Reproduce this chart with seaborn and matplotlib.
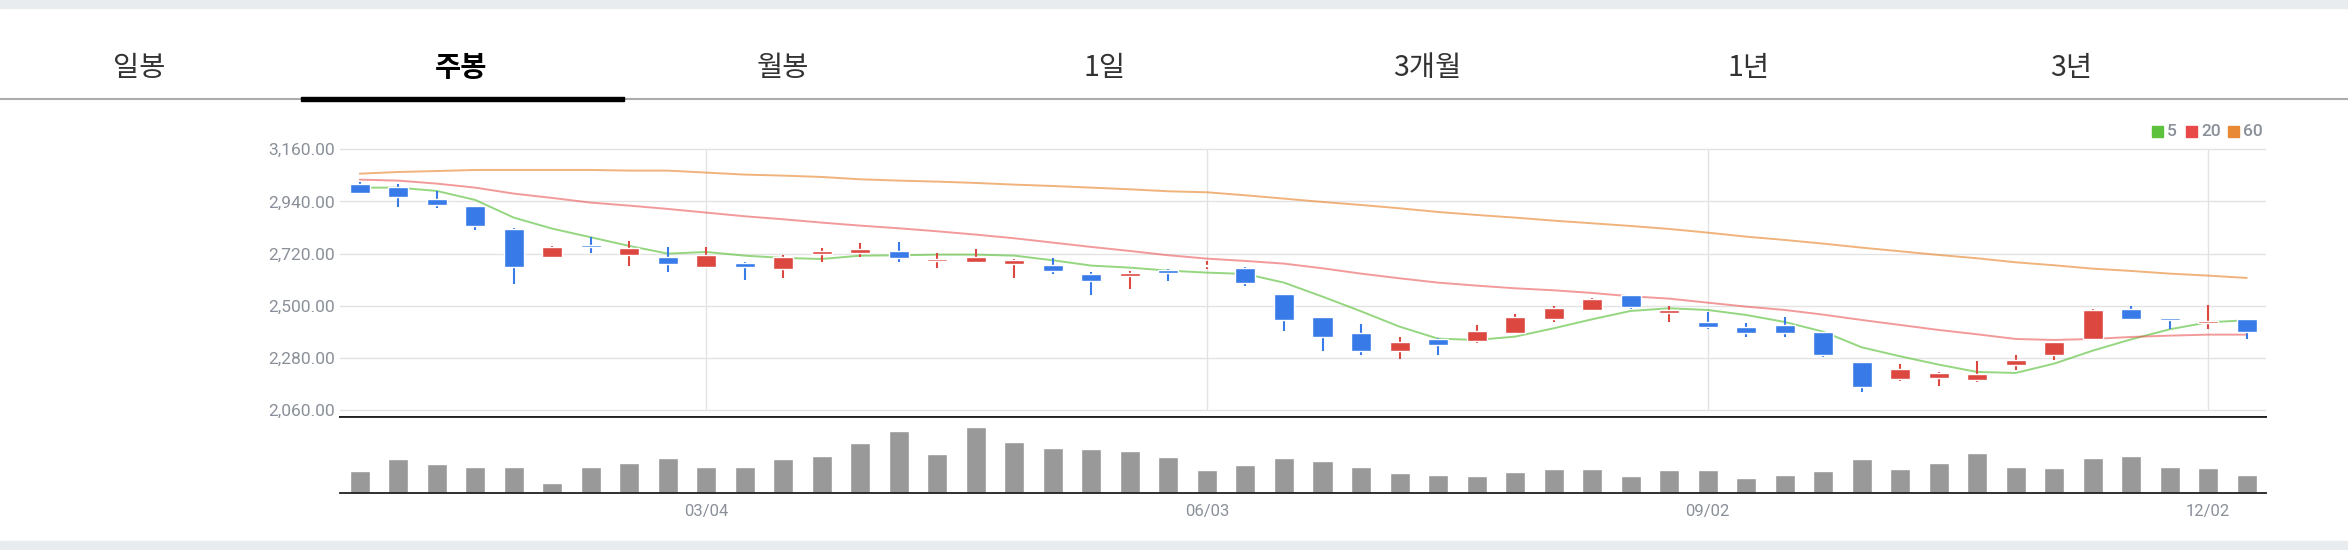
import numpy as np
import pandas as pd
import matplotlib
matplotlib.use('Agg')
import matplotlib.pyplot as plt
import seaborn as sns
from matplotlib.patches import Rectangle
from matplotlib.lines import Line2D

# weekly candles, 2024-01-01 .. 2024-12-09
opens = [3013.6, 3000.9, 2950, 2921, 2824, 2707, 2756, 2715, 2705.5, 2665,
         2680, 2656, 2719.6, 2723.8, 2731, 2690, 2685.8, 2677.4, 2671.8, 2633.8,
         2626.8, 2650.7, 2666.2, 2659, 2549.4, 2452.4, 2384.8, 2310.3, 2359.5, 2352.5,
         2386.3, 2445.3, 2483.3, 2545.2, 2470.6, 2431.3, 2410.2, 2418.6, 2389, 2262.5,
         2192.2, 2196.4, 2187.9, 2249.8, 2293.4, 2359.5, 2486.1, 2448, 2427, 2443.9]
highs = [3022, 3013.6, 2984, 2921, 2828, 2752, 2790, 2773, 2748, 2748,
         2684, 2712.6, 2743.5, 2764.6, 2768.8, 2722.4, 2739.3, 2697, 2701, 2642,
         2646.5, 2654.9, 2688.7, 2663.3, 2549.4, 2452.4, 2422.8, 2368, 2363.8, 2418.6,
         2465, 2498.8, 2532.5, 2545.2, 2498.8, 2473.5, 2427, 2452.4, 2389, 2262.5,
         2254, 2220.3, 2266.7, 2292, 2346.9, 2486.1, 2498.8, 2448, 2503, 2443.9]
lows = [2977, 2918, 2914, 2821, 2593, 2703, 2724, 2669, 2643.6, 2662,
        2610, 2618, 2685.8, 2707, 2684.4, 2660.5, 2685.8, 2618, 2635, 2546.6,
        2572, 2605.7, 2656.3, 2584.6, 2394.7, 2310.3, 2293.4, 2276.6, 2293.4, 2342.7,
        2386.3, 2432.7, 2479, 2487.5, 2432.7, 2403.1, 2369.4, 2369.4, 2283.6, 2137.3,
        2183.7, 2162.6, 2179.5, 2228.7, 2270.9, 2355.3, 2443.9, 2401.7, 2401.7, 2359.5]
closes = [2977, 2960, 2926, 2838, 2665, 2748, 2749, 2743.5, 2677, 2714,
          2665, 2705.5, 2731, 2739.3, 2702.7, 2697, 2705.5, 2692.9, 2647.9, 2605.7,
          2638, 2639.4, 2673.2, 2597, 2441, 2369.4, 2310.3, 2346.9, 2335.6, 2393.3,
          2452.4, 2490.3, 2528.3, 2496, 2481.9, 2411.6, 2386.3, 2386.3, 2293.4, 2158.4,
          2232.9, 2216.1, 2211.9, 2270.9, 2346.9, 2481.9, 2443.9, 2439.7, 2435.5, 2390.5]
ma5 = [2998, 2998, 2984, 2946, 2871.5, 2825, 2788.5, 2752, 2719.6, 2726.6,
       2711, 2701.3, 2697, 2711, 2712.6, 2715.4, 2715.4, 2711, 2691.5, 2669,
       2660.5, 2647.9, 2639.4, 2633.8, 2597.2, 2538.2, 2476.3, 2411.6, 2360.9, 2355.3,
       2369.4, 2404.5, 2442.5, 2477.7, 2488.9, 2481.9, 2460.8, 2431.3, 2390.5, 2324.4,
       2286.4, 2251.3, 2220.3, 2216.1, 2255.5, 2310.3, 2358.1, 2400.3, 2429.9, 2438.3]
ma20 = [3031.8, 3027.6, 3015, 2998, 2972.8, 2954.5, 2934.8, 2922.1, 2908.1, 2892.6,
        2877.1, 2864.5, 2850.4, 2837.7, 2826.5, 2813.8, 2799.8, 2784.3, 2766, 2747.7,
        2730.8, 2712.6, 2698.5, 2688.7, 2677.4, 2657.7, 2635.2, 2615.5, 2597.2, 2584.6,
        2573.3, 2564.9, 2553.6, 2539.6, 2529.7, 2512.8, 2496, 2481.9, 2462.2, 2439.7,
        2418.6, 2397.5, 2379.2, 2359.5, 2355.3, 2359.5, 2368, 2373.6, 2377.8, 2377.8]
ma60 = [3057, 3064, 3068, 3072.6, 3072.6, 3072.6, 3072.6, 3069.8, 3069.8, 3061.4,
        3053, 3048.7, 3043, 3033.2, 3027.6, 3023.4, 3017.8, 3010.7, 3005, 2998,
        2991, 2982.6, 2978.4, 2965.7, 2951.7, 2937.6, 2924.9, 2910.9, 2895.4, 2882.8,
        2871.5, 2858.8, 2847.6, 2836.3, 2823.7, 2808.2, 2791.3, 2777.3, 2761.8, 2744.9,
        2729.4, 2714, 2699.9, 2683, 2670.4, 2656.3, 2646.5, 2635.2, 2626.8, 2617]
volumes = [66, 99, 84, 78, 78, 30, 78, 87, 102, 78,
           78, 99, 108, 147, 183, 114, 195, 150, 132, 129,
           123, 105, 69, 81, 102, 93, 78, 60, 54, 51,
           63, 72, 72, 51, 69, 69, 45, 54, 66, 99,
           72, 87, 117, 78, 75, 102, 108, 78, 75, 54]

tabs = ['일봉', '주봉', '월봉', '1일', '3개월', '1년', '3년']
y_ticks = [2060, 2280, 2500, 2720, 2940, 3160]
tick_idx = [9, 22, 35, 48]
ma_names = ['5', '20', '60']

dates = pd.date_range('2024-01-01', periods=len(opens), freq='W-MON')
df = pd.DataFrame({'idx': np.arange(len(opens)), 'date': dates, 'open': opens, 'high': highs,
                   'low': lows, 'close': closes, 'ma5': ma5, 'ma20': ma20, 'ma60': ma60,
                   'vol': volumes})

sns.set_style('white')
plt.rcParams['font.family'] = ['Roboto', 'Noto Sans CJK KR', 'DejaVu Sans']

W, H = 2348, 550
fig = plt.figure(figsize=(W / 100, H / 100), dpi=100)

def fx(px):
    return px / W

def fy(py):
    return 1 - py / H

# page bands and tab bar
fig.patches.append(Rectangle((0, fy(8.3)), 1, 8.3 / H, transform=fig.transFigure, color='#e9ecef', zorder=0))
fig.patches.append(Rectangle((0, 0), 1, 9.3 / H, transform=fig.transFigure, color='#e9ecef', zorder=0))
fig.lines.append(Line2D([0, 1], [fy(99.3), fy(99.3)], transform=fig.transFigure, color='#ababab', lw=1.5))
fig.patches.append(Rectangle((fx(300.7), fy(101.3)), fx(323), 4.2 / H, transform=fig.transFigure,
                             color='black', zorder=3))
for i, t in enumerate(tabs):
    sel = t == '주봉'
    fig.text(fx(139 + 322 * i), fy(68), t, ha='center', va='center', fontsize=20.5,
             family=['Noto Sans CJK KR', 'DejaVu Sans'],
             fontweight='bold' if sel else 'medium', color='black' if sel else '#333333')

# price panel
left, right = 340.5, 2266
ax = fig.add_axes([fx(left), fy(417.3), fx(right - left), (417.3 - 140) / H])
ax.set_xlim(-0.5, len(opens) - 0.5)
ax.set_ylim(2029, 3199)

up = df['close'] >= df['open']
colors = np.where(up, '#dc4740', '#387be8')
body_lo = np.minimum(df['open'], df['close'])
body_h = np.maximum(np.abs(df['close'] - df['open']), 7)
ax.vlines(df['idx'], df['low'], df['high'], colors=colors, lw=1.5, zorder=3)
ax.bar(df['idx'], body_h, bottom=body_lo, width=0.52, color=colors, zorder=4)

ma_colors = ['#5cc13c', '#e84848', '#e88a35']
for col, c, a in zip(['ma5', 'ma20', 'ma60'], ma_colors, [0.65, 0.55, 0.65]):
    sns.lineplot(data=df, x='idx', y=col, ax=ax, color=c, alpha=a, lw=1.4, zorder=2)

ax.set_yticks(y_ticks)
ax.set_yticklabels([f'{v:,.2f}' for v in y_ticks])
ax.set_xticks([])
ax.set_xlabel('')
ax.set_ylabel('')
ax.grid(axis='y', color='#e3e3e3', lw=1.0)
ax.vlines(tick_idx, 2060, 3160, colors='#e3e3e3', lw=1.0, zorder=0)
ax.tick_params(axis='y', length=0, pad=4, labelsize=12.5, labelcolor='#8a9099')
for s in ['top', 'left', 'right']:
    ax.spines[s].set_visible(False)
ax.spines['bottom'].set_color('#1f1f1f')
ax.spines['bottom'].set_linewidth(1.3)

# legend
for i, (n, c) in enumerate(zip(ma_names, ma_colors)):
    x0 = [2152, 2186, 2228][i]
    fig.patches.append(Rectangle((fx(x0), fy(136.7)), fx(10.7), 10.7 / H, transform=fig.transFigure,
                                 color=c))
    fig.text(fx(x0 + 15), fy(131.5), n, ha='left', va='center', fontsize=12.5,
             color='#8a9099', fontweight='medium')

# volume panel
axv = fig.add_axes([fx(left), fy(492.7), fx(right - left), 75.4 / H])
sns.barplot(data=df, x='idx', y='vol', ax=axv, color='#999999', saturation=1, width=0.52)
axv.set_xlim(-0.5, len(opens) - 0.5)
axv.set_ylim(0, max(volumes) * 75.4 / 65.5)
axv.set_xticks(tick_idx)
axv.set_xticklabels([dates[i].strftime('%m/%d') for i in tick_idx])
axv.set_yticks([])
axv.set_xlabel('')
axv.set_ylabel('')
axv.tick_params(axis='x', length=3.8, width=1.2, color='#1f1f1f', pad=4.5,
                labelsize=12, labelcolor='#8a9099')
for s in ['left', 'right']:
    axv.spines[s].set_visible(False)
for s in ['top', 'bottom']:
    axv.spines[s].set_color('#1f1f1f')
    axv.spines[s].set_linewidth(1.3)

fig.savefig('out.png', dpi=100)
